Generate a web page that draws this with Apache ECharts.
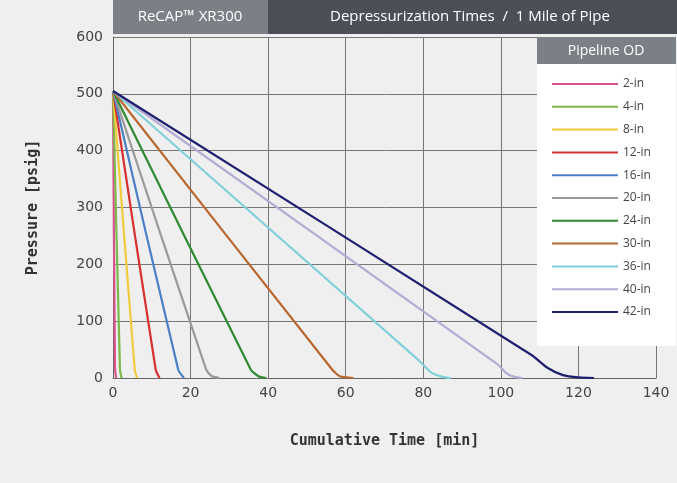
<!DOCTYPE html>
<html><head><meta charset="utf-8">
<script src="https://cdn.jsdelivr.net/npm/echarts@6/dist/echarts.min.js"></script>
<style>html,body{margin:0;background:#efefef}#c{width:677px;height:483px}</style>
</head><body><div id="c"></div>
<script>
// pipeline sizes and their curves: [minutes, psig]
var sizes = ['2-in','4-in','8-in','12-in','16-in','20-in','24-in','30-in','36-in','40-in','42-in'];
var colors = ['#d9528c','#7cb84a','#f0cb3c','#d63030','#4b7fc6','#9a9a9a','#2f8a30','#b8672f','#80d0dc','#b3abd3','#1f1f70'];
var curves = [
  [[0,505],[0.5,20],[0.8,0]],
  [[0,505],[1.8,15],[2.2,0]],
  [[0,505],[5.6,15],[6.2,0]],
  [[0,505],[11,15],[12,0]],
  [[0,505],[16.8,15],[18.3,0]],
  [[0,505],[24,15],[25.5,3],[27.5,0]],
  [[0,505],[35.5,15],[37.5,3],[39.5,0]],
  [[0,505],[56.5,15],[58.5,3],[62,0]],
  [[0,505],[79,30],[82,10],[85,2],[87,0]],
  [[0,505],[99,25],[101.5,8],[103.5,2],[105.5,0]],
  [[0,505],[108,40],[112,18],[116,5],[120,1],[124,0]]
];
var chart = echarts.init(document.getElementById('c'));
var series = sizes.map(function(s,i){
  return {name:s,type:'line',data:curves[i],smooth:0.2,showSymbol:false,
    lineStyle:{width:2.2,color:colors[i]},itemStyle:{color:colors[i]}};
});
chart.setOption({
  backgroundColor:'#efefef',
  animation:false,
  textStyle:{fontFamily:'DejaVu Sans'},
  grid:{left:113,right:21,top:37,bottom:105},
  graphic:[
    {type:'rect',shape:{x:113,y:0,width:155,height:34},style:{fill:'#7b7f86'}},
    {type:'rect',shape:{x:268,y:0,width:409,height:34},style:{fill:'#4b5058'}},
    {type:'text',x:190,y:17,style:{text:'ReCAP™ XR300',fill:'#fff',font:'15px "Open Sans"',align:'center',verticalAlign:'middle'}},
    {type:'text',x:470,y:17,style:{text:'Depressurization Times  /  1 Mile of Pipe',fill:'#fff',font:'15px "Open Sans"',align:'center',verticalAlign:'middle'}},
    {type:'rect',shape:{x:537,y:37,width:139,height:27},style:{fill:'#7b7f86'},z:10},
    {type:'text',x:606,y:51,style:{text:'Pipeline OD',fill:'#fff',font:'14px "Open Sans"',align:'center',verticalAlign:'middle'},z:11},
    {type:'rect',shape:{x:537,y:64,width:139,height:282},style:{fill:'#fff'},z:10}
  ],
  legend:{orient:'vertical',left:547,top:73,itemGap:10.8,itemWidth:66,itemHeight:14,z:12,
    icon:'path://M0,6H66V8H0Z',
    data:sizes,textStyle:{fontSize:12,color:'#444',fontFamily:'Open Sans',width:28,align:'right'}},
  xAxis:{type:'value',min:0,max:140,interval:20,
    name:'Cumulative Time [min]',nameLocation:'middle',nameGap:56,
    nameTextStyle:{fontSize:15,fontWeight:'bold',color:'#333',fontFamily:'DejaVu Sans Mono'},
    axisLine:{lineStyle:{color:'#666'}},axisTick:{show:false},
    axisLabel:{fontSize:14,color:'#444',margin:8},
    splitLine:{lineStyle:{color:'#777',width:1}}},
  yAxis:{type:'value',min:0,max:600,interval:100,
    name:'Pressure [psig]',nameLocation:'middle',nameGap:72,
    nameTextStyle:{fontSize:15,fontWeight:'bold',color:'#333',fontFamily:'DejaVu Sans Mono'},
    axisLine:{show:true,lineStyle:{color:'#666'}},axisTick:{show:false},
    axisLabel:{fontSize:14,color:'#444',margin:10},
    splitLine:{lineStyle:{color:'#777',width:1}}},
  series:series
});
</script></body></html>
